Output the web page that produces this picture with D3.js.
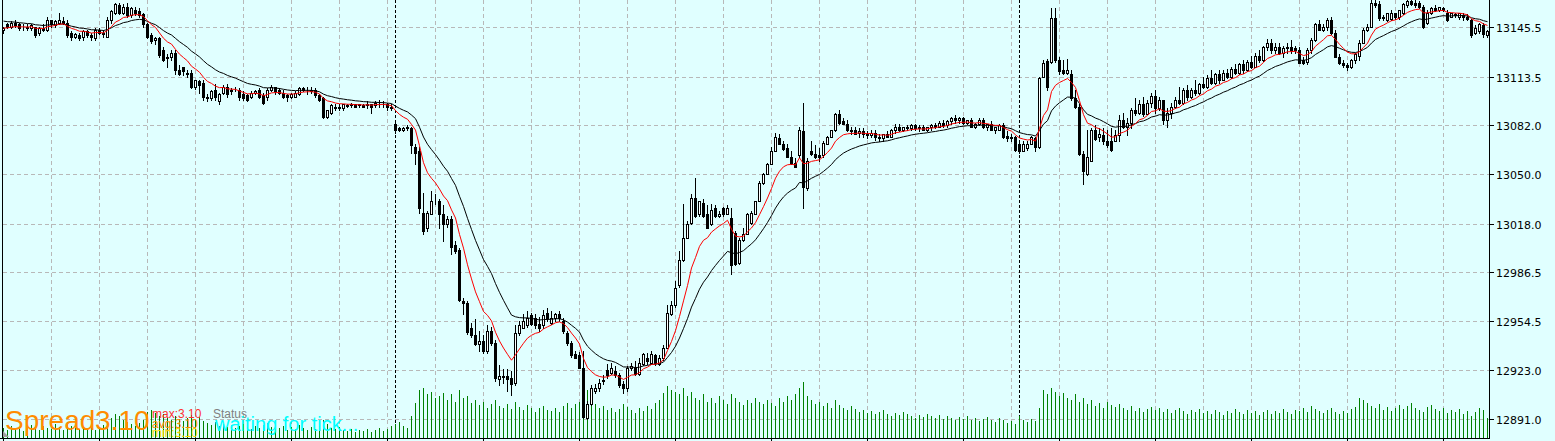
<!DOCTYPE html>
<html>
<head>
<meta charset="utf-8">
<title>M1 chart</title>
<script src="https://cdn.jsdelivr.net/npm/d3@7/dist/d3.min.js"></script>
<style>
  html, body { margin: 0; padding: 0; background: #E0FFFF; overflow: hidden; }
  svg { display: block; }
</style>
</head>
<body>
<div id="chart"></div>
<script>
// ============================================================
// 1. Data
// ============================================================
const opens = [
  13143.5,13147.5,13145.5,13148,13147.5,13145.5,13146,13145,13145.5,13141.5,
  13145,13143.5,13150,13147,13148.5,13149.5,13148.5,13141.5,13139.5,13140.5,
  13139,13143,13140.5,13138.5,13143.5,13142,13139.5,13150,13155,13160,
  13155,13159,13153.5,13157,13156,13154,13147.5,13140.5,13137,13138.5,
  13130.5,13125.5,13126,13129,13118,13119.5,13116,13116,13106.5,13110.5,
  13109.5,13100.5,13099.5,13105,13097.5,13103,13107,13104,13105,13104.5,
  13102.5,13101.5,13100,13103,13104.5,13101.5,13100,13104.5,13106.5,13104.5,
  13103,13101.5,13100,13100.5,13102,13106,13105,13105,13104.5,13101.5,
  13099.5,13087.5,13090,13094,13093,13093,13095,13095,13095.5,13095,
  13095,13095,13095.5,13095,13096,13095.5,13096,13094,13082.5,13080,
  13079,13080,13080,13068,13065.5,13025,13015,13024.5,13033,13032.5,
  13024,13018,13021,13004,13001,12968,12966.5,12950,12945.5,12940,
  12942,12935.5,12948.5,12940.5,12917,12918.5,12919,12918,12914.5,12947,
  12950.5,12952,12958.5,12956.5,12953,12952,12960,12953.5,12956.5,12959.5,
  12955,12947,12940.5,12933.5,12933,12924.5,12892,12901,12909.5,12911,
  12916,12923,12921,12922.5,12919.5,12914,12911,12924,12924.5,12920.5,
  12927,12930.5,12927.5,12932.5,12927,12930.5,12937.5,12959.5,12965,12978,
  12994.5,13009,13018.5,13035,13024.5,13031.5,13024,13018,13028,13023,
  13028,13024.5,13022,13012,12992.5,13007.5,13011.5,13018.5,13024.5,13033,
  13044.5,13050.5,13057,13065.5,13073.5,13070,13067,13061,13057.5,13062.5,
  13078,13041,13065.5,13063.5,13062.5,13062.5,13070,13074.5,13078.5,13089.5,
  13084.5,13083,13079,13078.5,13077,13078,13076,13075.5,13077,13074,
  13073.5,13076,13074.5,13078.5,13081,13079,13080.5,13080,13082,13080,
  13080.5,13079,13080.5,13082,13081,13083.5,13082,13084.5,13086.5,13085,
  13086.5,13083.5,13085,13081,13083,13085,13080.5,13082.5,13079,13079,
  13082,13075,13073.5,13074,13070,13065.5,13067,13070,13073.5,13067.5,
  13113.5,13123.5,13123,13151.5,13124,13117.5,13116,13115.5,13099.5,13093.5,
  13063.5,13050.5,13059,13078.5,13074.5,13075.5,13071.5,13072,13072,13075.5,
  13085,13081,13083.5,13091.5,13090,13095.5,13089.5,13096.5,13101,13093,
  13098,13085,13090,13094,13098.5,13096.5,13104.5,13100.5,13104.5,13103,
  13108.5,13107,13112.5,13109.5,13115,13111.5,13116,13113.5,13118.5,13116,
  13121.5,13117.5,13123,13120,13127,13124,13132.5,13135.5,13130.5,13133,
  13129,13132,13133,13132,13130.5,13124.5,13123,13130.5,13137,13147.5,
  13144,13145.5,13150,13141.5,13126.5,13122.5,13121,13119.5,13124,13127,
  13135.5,13143.5,13146,13161.5,13160.5,13152,13150,13151,13154.5,13152,
  13154.5,13160,13162.5,13161.5,13161,13158.5,13148,13154.5,13158,13156.5,
  13158,13155,13152.5,13154,13152,13153.5,13152.5,13150,13141.5,13143,
  13147,13140.5
];
const highs = [
  13146,13148.5,13149.5,13150,13148.5,13147.5,13147.5,13147.5,13146,13146,
  13147.5,13152,13150.5,13150.5,13154.5,13152.5,13150.5,13143,13142,13141.5,
  13143.5,13143.5,13142,13145,13145,13144,13152,13157,13161.5,13161,
  13160.5,13161,13159,13158.5,13158,13155,13148.5,13141.5,13139,13139,
  13132.5,13128,13130.5,13130.5,13121,13120,13117.5,13117.5,13111.5,13111.5,
  13111.5,13102,13104.5,13108.5,13103,13108,13108.5,13106,13106.5,13106,
  13104,13102.5,13104,13105,13106,13103,13106,13108,13107,13106,
  13104.5,13102.5,13103,13104,13106.5,13107,13107,13106.5,13106,13102.5,
  13100.5,13092,13095.5,13095.5,13095.5,13096,13096,13096.5,13096,13096,
  13095.5,13097.5,13096,13097.5,13098,13097.5,13096.5,13096,13083.5,13081,
  13080.5,13082,13080.5,13070,13067.5,13038,13026.5,13039.5,13037.5,13034,
  13030,13023,13023,13007,13002.5,12970,12968,12953.5,12956,12948.5,
  12945.5,12952,12951,12942.5,12926,12923.5,12923.5,12922.5,12952,12955,
  12959.5,12961.5,12960,12959.5,12957.5,12962,12963,12961.5,12960,12961.5,
  12956.5,12948.5,12942,12935.5,12935,12935.5,12903,12913,12914,12917,
  12919.5,12927,12927.5,12925.5,12921,12916,12925.5,12927.5,12929,12930.5,
  12934,12934,12935.5,12933.5,12932.5,12939,12965,12968,12981,13000.5,
  13031,13020,13037,13047.5,13033,13034,13030,13031,13030,13026.5,
  13029,13030,13028.5,13013.5,13009,13015,13025,13026.5,13033,13046,
  13051,13057.5,13067.5,13077,13076,13072,13069.5,13065.5,13060.5,13081,
  13096.5,13060.5,13072,13069,13067,13072,13075,13079,13090,13091.5,
  13086.5,13085,13081,13081,13080,13080,13078,13078.5,13079,13076,
  13076.5,13078,13079.5,13082.5,13082.5,13081,13082,13082.5,13083,13082,
  13082,13081,13082.5,13083.5,13084.5,13085.5,13085,13087,13088.5,13087,
  13087.5,13085.5,13086.5,13083.5,13086.5,13086.5,13083,13084.5,13081,13083,
  13083.5,13078,13076.5,13075,13072,13071.5,13072,13075,13074.5,13113.5,
  13124,13125,13158,13158,13126,13124,13125,13117.5,13104.5,13095.5,
  13065.5,13078.5,13080,13082,13080,13080,13078.5,13080,13078.5,13088.5,
  13090,13086.5,13093,13099.5,13098,13100.5,13098,13103,13104.5,13100.5,
  13098.5,13093,13096.5,13100.5,13107,13106,13108,13106,13111,13109.5,
  13113.5,13114.5,13117.5,13116,13117.5,13117.5,13118.5,13120,13121.5,13122.5,
  13124,13124,13127,13129,13130.5,13133.5,13138,13138,13135,13135.5,
  13133.5,13135,13137,13133.5,13132.5,13126.5,13132,13138.5,13148.5,13150,
  13147.5,13151.5,13152,13143.5,13128,13124,13122.5,13125,13129,13137,
  13145,13147.5,13163,13163,13162.5,13153.5,13155,13156.5,13155,13157,
  13161,13163,13163,13163,13162.5,13160,13156.5,13158.5,13160,13159,
  13159,13156.5,13155,13155,13155,13154.5,13154,13151,13147,13148.5,
  13148.5,13144
];
const lows = [
  13141.5,13145,13145,13146,13144,13144,13143.5,13143.5,13139.5,13140.5,
  13143,13143,13146,13145.5,13147.5,13147.5,13139,13137.5,13138.5,13137,
  13137.5,13139,13137,13137.5,13141,13139,13139,13148.5,13154,13154,
  13154,13152,13152.5,13153.5,13152,13146,13138.5,13135,13134.5,13126,
  13123.5,13120,13124,13115,13114.5,13114.5,13113.5,13106,13105.5,13103,
  13098.5,13097.5,13098.5,13098.5,13095.5,13102.5,13100.5,13102,13104,13098.5,
  13098,13097.5,13099.5,13102,13099.5,13095.5,13098.5,13104,13102.5,13102,
  13099.5,13097.5,13099.5,13100,13101.5,13104,13102.5,13103,13100.5,13097.5,
  13086.5,13086.5,13089.5,13091.5,13091.5,13092,13093.5,13093.5,13093.5,13093.5,
  13093.5,13093,13090,13094,13094,13093.5,13092,13092,13077,13078,
  13078,13078.5,13064,13057,13025,13011.5,13013.5,13024,13031,13015,
  13007,13016,12998.5,12999,12968,12959.5,12946.5,12944.5,12939,12935.5,
  12934,12934,12939.5,12916,12913,12914.5,12909.5,12906.5,12913,12946,
  12950,12951,12952,12950,12948.5,12950.5,12955,12953,12955,12955,
  12947,12939,12931.5,12930.5,12924,12892,12891.5,12900,12908,12909.5,
  12914,12918,12920.5,12918.5,12912,12908,12909.5,12923,12920,12919.5,
  12926.5,12927,12927,12926.5,12926,12929.5,12937,12959,12964,12977,
  12994,13008.5,13018,13022.5,13023,13022.5,13015,13017,13022.5,13022.5,
  13023,13024,12985.5,12991,12992,13007,13011,13018,13024,13032.5,
  13044,13050,13056.5,13065,13069.5,13066,13061,13057,13054.5,13061.5,
  13028,13040,13062.5,13060.5,13059,13061.5,13069.5,13074,13078,13083,
  13082.5,13078,13076,13076,13074.5,13074.5,13073.5,13074.5,13072.5,13071.5,
  13072,13074,13074,13077,13078,13078,13078.5,13079,13079,13078,
  13078.5,13078,13079,13080,13080.5,13081,13081,13083,13083.5,13083.5,
  13083,13082.5,13080.5,13080,13082,13080,13079,13078.5,13077,13078.5,
  13073.5,13072,13072,13065,13064,13065,13066,13069.5,13065.5,13067,
  13113,13104.5,13122,13123,13115.5,13115,13115.5,13098.5,13093,13062.5,
  13044,13049.5,13058.5,13072.5,13072,13070,13068,13065,13071.5,13072,
  13080,13075.5,13080,13088.5,13089.5,13088,13089,13094,13090,13091.5,
  13082.5,13081,13086.5,13093,13095.5,13095.5,13098,13099.5,13101.5,13102,
  13106,13106,13108.5,13108.5,13109.5,13111,13112.5,13112.5,13115,13115,
  13116,13117,13119,13119.5,13123,13123.5,13130.5,13129,13129,13128,
  13126.5,13129,13129,13129,13122,13121.5,13121.5,13129,13136.5,13143.5,
  13143,13143.5,13141,13126,13121.5,13120,13117.5,13119,13122.5,13124.5,
  13135,13143,13145.5,13159,13150.5,13150.5,13149.5,13150.5,13151,13151,
  13154,13159,13160,13159,13158,13145,13147.5,13154,13156,13156,
  13156,13149.5,13152,13152,13151,13150.5,13150,13139.5,13141,13142,
  13139.5,13139.5
];
const closes = [
  13145,13145.5,13148,13147,13145,13146,13145,13147,13140.5,13145,
  13144,13150.5,13147.5,13149.5,13150,13148.5,13140.5,13139,13141,13138.5,
  13143,13140.5,13139,13143.5,13142,13141,13150,13156,13160.5,13155,
  13159,13153.5,13158,13155,13153.5,13147.5,13139.5,13136.5,13138.5,13127.5,
  13124.5,13126.5,13129,13117.5,13115.5,13117,13115,13106.5,13111,13108,
  13100,13099.5,13104,13100,13102.5,13107,13102,13104.5,13104.5,13100,
  13099.5,13098.5,13103,13104,13100.5,13096.5,13105,13107,13104,13103,
  13100.5,13100.5,13102,13103,13106,13105,13104.5,13104,13101.5,13098,
  13087.5,13091.5,13095,13093,13094,13095.5,13094.5,13095.5,13094,13095.5,
  13094,13096,13094,13096.5,13095.5,13096,13093.5,13093,13078.5,13079,
  13080,13080.5,13069,13064,13028,13013.5,13025,13033,13032.5,13024.5,
  13018,13021,13003,13000.5,12968.5,12966.5,12948,12945.5,12940,12942,
  12935.5,12948.5,12940.5,12918,12919,12919,12917,12914,12947,12952,
  12955,12957,12953,12952,12950,12958.5,12956.5,12957,12959.5,12956.5,
  12948.5,12940.5,12932.5,12931,12924.5,12892.5,12901,12911.5,12911.5,12914.5,
  12916.5,12919.5,12924.5,12919.5,12913,12911,12924,12925.5,12920.5,12927.5,
  12933.5,12929,12933.5,12927.5,12931,12937.5,12960,12965,12976.5,12994.5,
  13008.5,13017.5,13035,13023,13032.5,13023,13015.5,13027,13023,13024.5,
  13024.5,13028.5,12991,12992,13007.5,13011.5,13024.5,13025,13032.5,13044.5,
  13050,13057,13065.5,13074.5,13070,13066.5,13061.5,13057.5,13055,13079,
  13041.5,13059,13063,13061,13061.5,13070.5,13074.5,13078.5,13089.5,13083.5,
  13083,13078.5,13078,13076.5,13078,13076,13075.5,13077,13074,13073.5,
  13076,13074.5,13078.5,13081,13079,13080.5,13080,13082,13080,13080.5,
  13079,13080.5,13082,13081,13083.5,13082,13084.5,13086.5,13085,13086.5,
  13083.5,13085,13081,13083,13085,13080.5,13082.5,13079,13080.5,13082,
  13074.5,13073.5,13074.5,13066,13065.5,13070,13070,13074,13067.5,13112.5,
  13122,13106.5,13151.5,13124,13117,13116,13117.5,13099.5,13093.5,13063.5,
  13052.5,13061,13078.5,13073,13076.5,13071.5,13069,13066,13075.5,13085,
  13081,13083.5,13091.5,13090,13095.5,13089.5,13096.5,13101,13093,13098,
  13085,13090,13094,13098.5,13096.5,13104.5,13100.5,13104.5,13103,13108.5,
  13107,13112.5,13109.5,13115,13111.5,13116,13113.5,13118.5,13116,13121.5,
  13117.5,13123,13120,13127,13124,13132.5,13135.5,13130.5,13133,13129,
  13132,13133,13130.5,13130.5,13122.5,13122,13130.5,13137,13147.5,13144,
  13146,13150,13141.5,13126.5,13122,13121,13120,13124,13128,13135.5,
  13143.5,13146,13161.5,13160,13151.5,13151.5,13154.5,13155,13152.5,13156.5,
  13160.5,13162.5,13160.5,13160,13158.5,13145.5,13154.5,13158,13157,13158.5,
  13157,13150,13154.5,13153.5,13154.5,13152.5,13151,13140.5,13145,13147.5,
  13141,13143
];
const volumes = [
  10,8,12,9,11,7,10,13,9,8, 12,10,9,14,11,8,16,12,10,9,
  11,9,12,8,10,13,15,20,24,22, 18,16,14,12,15,18,26,28,25,22,
  24,20,18,22,19,17,20,23,18,21, 17,15,13,16,12,14,11,13,10,12,
  14,11,9,12,10,13,15,11,9,10, 12,8,11,9,13,10,8,11,9,12,
  18,14,10,9,11,8,7,9,6,8, 7,9,6,8,10,7,9,12,14,16,
  12,10,22,35,48,50,44,46,40,42, 45,38,44,36,48,40,42,35,38,33,
  36,30,34,38,32,30,34,29,36,31, 28,33,30,26,30,32,28,27,30,26,
  32,35,30,34,36,52,48,40,34,30, 32,28,30,26,29,34,31,28,25,30,
  27,32,29,35,38,45,52,48,46,44, 50,42,46,40,38,44,36,40,35,42,
  38,34,44,40,36,33,38,35,40,36, 34,38,35,32,40,36,42,38,44,50,
  56,42,38,34,36,32,35,30,38,33, 30,28,32,29,26,28,25,27,24,26,
  28,24,22,25,23,26,24,22,20,23, 21,24,22,20,23,19,22,20,18,21,
  19,22,18,20,17,19,21,18,16,20, 18,15,17,14,22,18,16,19,17,30,
  48,44,50,46,42,45,40,38,44,36, 40,34,38,32,35,30,36,33,31,34,
  30,28,32,27,30,26,29,31,28,30, 26,29,25,28,30,27,24,28,26,29,
  25,27,24,28,26,23,27,25,29,26, 24,28,25,27,23,26,28,24,27,25,
  29,26,24,28,27,30,26,32,29,27, 25,28,30,26,24,27,25,29,31,40,
  38,35,32,30,34,28,31,27,30,33, 29,32,35,30,28,26,31,33,29,27,
  30,25,28,26,29,24,27,22,26,30, 28,20
];
const priceTicks  = [13145.5, 13113.5, 13082.0, 13050.0, 13018.0, 12986.5, 12954.5, 12923.0, 12891.0];
const daySeparators = [98, 254];          // first bar of a new day
const maPeriods = { fast: 9, slow: 20 };  // EMA periods
const maSeeds   = { fast: 13145.0, slow: 13150.0 }; // MA values at the first visible bar
const spreadTexts = { spread: '3.10', max: 'max:3.10', avg: 'avg:3.10', min: 'min:3.10', status: 'Status', state: 'waiting for tick...' };

// ============================================================
// 2. Layout & scales
// ============================================================
const W = 1555, H = 441;
const plotRight = 1489, plotBottom = 438;
const n = closes.length;

const x = d3.scaleBand().domain(d3.range(n)).range([1.5, 1.5 + 4 * n]);
const cx = i => x(i) + x.bandwidth() / 2;
const y = d3.scaleLinear().domain([12891.0, 13145.5]).range([419.3, 27.3]);
const vh = d3.scaleLinear().domain([0, 60]).range([0, 60]);
const py = v => Math.round(y(v));
const px = i => Math.floor(cx(i)) + 0.5;

const svg = d3.select('#chart').append('svg').attr('width', W).attr('height', H);
svg.append('rect').attr('width', W).attr('height', H).attr('fill', '#E0FFFF');

// ============================================================
// 3. Grid
// ============================================================
const grid = svg.append('g').attr('stroke', '#B8B8B8').attr('stroke-width', 1).attr('stroke-dasharray', '4,3').attr('shape-rendering', 'crispEdges');
grid.selectAll('line.h').data(priceTicks).join('line')
  .attr('x1', 3).attr('x2', plotRight).attr('y1', d => py(d) + 0.5).attr('y2', d => py(d) + 0.5);
grid.selectAll('line.v').data(d3.range(12, n, 12)).join('line')
  .attr('x1', px).attr('x2', px)
  .attr('y1', 0).attr('y2', plotBottom);

// day separators
svg.append('g').selectAll('line').data(daySeparators).join('line')
  .attr('x1', px).attr('x2', px)
  .attr('y1', 0).attr('y2', plotBottom)
  .attr('stroke', '#000').attr('stroke-dasharray', '3,2').attr('shape-rendering', 'crispEdges');

// ============================================================
// 4. Volumes
// ============================================================
svg.append('g').attr('stroke', '#008000').attr('shape-rendering', 'crispEdges')
  .selectAll('line').data(volumes).join('line')
  .attr('x1', (d, i) => px(i)).attr('x2', (d, i) => px(i))
  .attr('y1', plotBottom).attr('y2', d => plotBottom - Math.round(vh(d)));

// ============================================================
// 5. Candles
// ============================================================
const bars = d3.range(n).map(i => ({ i, o: opens[i], h: highs[i], l: lows[i], c: closes[i] }));
const cg = svg.append('g').attr('shape-rendering', 'crispEdges');
cg.selectAll('line').data(bars).join('line')
  .attr('x1', d => px(d.i)).attr('x2', d => px(d.i))
  .attr('y1', d => py(d.h)).attr('y2', d => py(d.l) + 1)
  .attr('stroke', '#000');
cg.selectAll('rect').data(bars).join('rect')
  .attr('x', d => Math.floor(cx(d.i)) - 0.5)
  .attr('y', d => py(Math.max(d.o, d.c)) + 0.5)
  .attr('width', 2)
  .attr('height', d => Math.max(0, py(Math.min(d.o, d.c)) - py(Math.max(d.o, d.c))))
  .attr('fill', d => d.c > d.o ? '#FFFFFF' : '#000000')
  .attr('stroke', '#000');

// ============================================================
// 6. Moving averages (EMA of closes)
// ============================================================
function ema(values, period, seed) {
  const k = 2 / (period + 1);
  let prev = seed;
  return values.map(v => (prev = prev + k * (v - prev)));
}
const line = d3.line().x((d, i) => cx(i)).y(d => y(d));
svg.append('path').attr('d', line(ema(closes, maPeriods.slow, maSeeds.slow)))
  .attr('fill', 'none').attr('stroke', '#000').attr('stroke-width', 1);
svg.append('path').attr('d', line(ema(closes, maPeriods.fast, maSeeds.fast)))
  .attr('fill', 'none').attr('stroke', '#FF0000').attr('stroke-width', 1);

// ============================================================
// 7. Axes
// ============================================================
const ax = svg.append('g').attr('stroke', '#000').attr('shape-rendering', 'crispEdges');
ax.append('line').attr('x1', plotRight + 0.5).attr('x2', plotRight + 0.5).attr('y1', 0).attr('y2', plotBottom + 1);
ax.append('line').attr('x1', 0).attr('x2', plotRight + 1).attr('y1', plotBottom + 0.5).attr('y2', plotBottom + 0.5);
ax.append('line').attr('x1', 2.5).attr('x2', 2.5).attr('y1', 0).attr('y2', plotBottom);
ax.selectAll('line.pt').data(priceTicks).join('line')
  .attr('x1', plotRight).attr('x2', plotRight + 5).attr('y1', d => py(d) + 0.5).attr('y2', d => py(d) + 0.5);
ax.selectAll('line.tt').data(d3.range(0, n, 24)).join('line')
  .attr('x1', px).attr('x2', px)
  .attr('y1', plotBottom).attr('y2', H);

svg.append('g').selectAll('text').data(priceTicks).join('text')
  .attr('x', plotRight + 7).attr('y', d => py(d) + 4.5)
  .attr('font-family', 'DejaVu Sans, sans-serif').attr('font-size', 11).attr('fill', '#000')
  .text(d => d.toFixed(1));

// chart-shift marker
svg.append('path').attr('d', 'M3,431 L3,437 L9,437 Z').attr('fill', '#A0A0A0');

// ============================================================
// 8. Spread overlay (the reference draws these texts on top of each other)
// ============================================================
const ov = svg.append('g').attr('font-family', 'Liberation Sans, Arial, sans-serif');
ov.append('text').attr('x', 5).attr('y', 429.5).attr('font-size', 28).attr('fill', '#FF8C00').text('Spread');
ov.append('text').attr('x', 95).attr('y', 429.5).attr('font-size', 28).attr('fill', '#FF8C00').text(spreadTexts.spread);
ov.append('text').attr('x', 152).attr('y', 417.5).attr('font-size', 12).attr('fill', '#FF3030').text(spreadTexts.max);
ov.append('text').attr('x', 152).attr('y', 427.5).attr('font-size', 12).attr('fill', '#FF8C00').text(spreadTexts.avg);
ov.append('text').attr('x', 152).attr('y', 437).attr('font-size', 12).attr('fill', '#FFD700').text(spreadTexts.min);
ov.append('text').attr('x', 213).attr('y', 417.5).attr('font-size', 12).attr('fill', '#808080').text(spreadTexts.status);
ov.append('text').attr('x', 215).attr('y', 431).attr('font-size', 20).attr('fill', '#00FFFF').text(spreadTexts.state);
</script>
</body>
</html>
